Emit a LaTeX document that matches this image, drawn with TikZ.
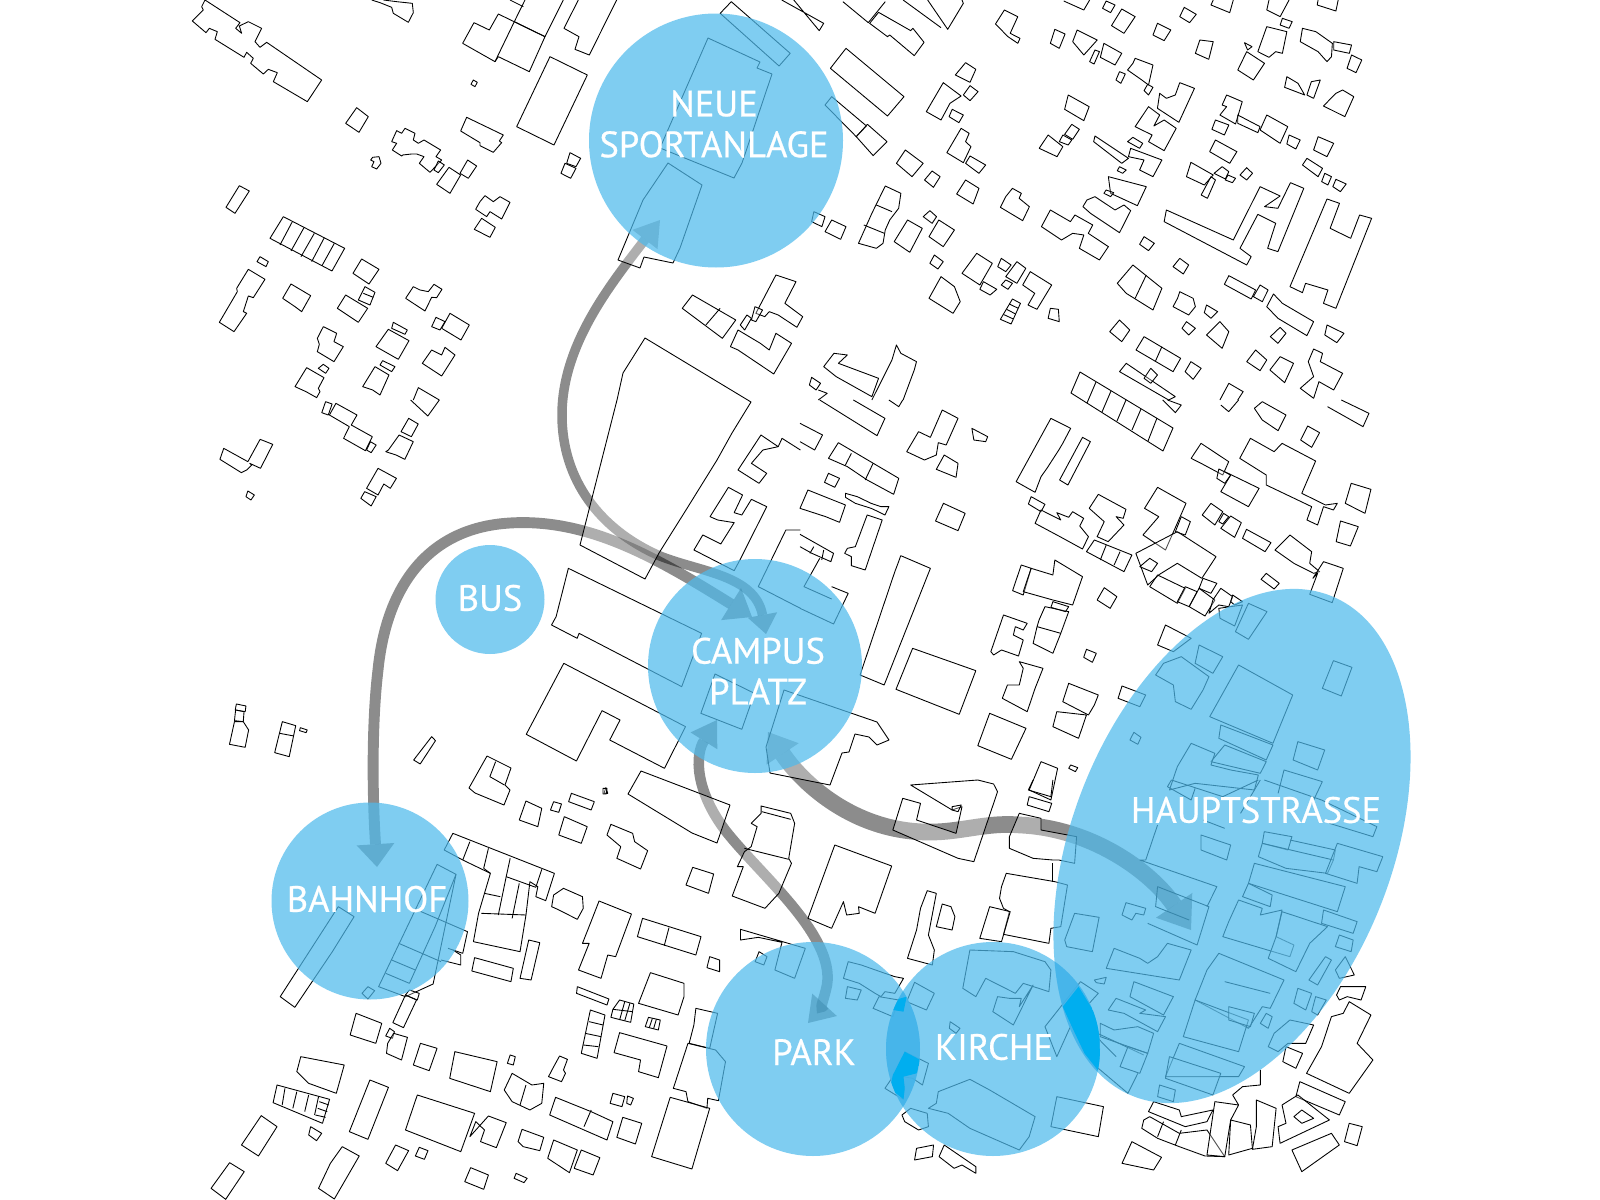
\documentclass[tikz,border=0pt]{standalone}
\usepackage{fontspec}
\setmainfont{PT Sans}
\newfontfamily\labfont[FakeBold=0.6]{PT Sans}
\usetikzlibrary{arrows.meta}
\definecolor{blu}{HTML}{4EBAEC}
\definecolor{dblu}{HTML}{00AEEF}
\definecolor{lens}{HTML}{3FB2EA}
\tikzset{
 bld/.style={draw=black,line width=0.5pt,fill=white,fill opacity=0.3,line join=round},
 ln/.style={draw=black,line width=0.5pt,line join=round},
 arr/.style={draw=black,draw opacity=0.45,fill opacity=0.45,line cap=butt},
 area/.style={fill=blu,fill opacity=0.72},
 lab/.style={text=white,font=\labfont\fontsize{20.8pt}{23.2pt}\selectfont,align=center,inner sep=0pt},
 zA/.style={shift={(180,0)},x=0.0066667cm,y=-0.0066667cm},
 zB/.style={shift={(680,0)},x=0.0089286cm,y=-0.0066667cm},
 zC/.style={shift={(200,400)},x=0.007654cm,y=-0.0066667cm},
 zD/.style={shift={(800,400)},x=0.007908cm,y=-0.0066667cm},
 zE/.style={shift={(200,780)},x=0.007908cm,y=-0.0066667cm},
 zF/.style={shift={(800,780)},x=0.007908cm,y=-0.0066667cm},
}
\newcommand\B[1]{\draw[bld] plot coordinates {#1} -- cycle;}
\newcommand\Ln[1]{\draw[ln] plot coordinates {#1};}
\begin{document}
\begin{tikzpicture}[x=0.02cm,y=-0.02cm]
\useasboundingbox (0,0) rectangle (1600,1200);
\fill[white] (0,0) rectangle (1600,1200);
\clip (0,0) rectangle (1600,1200);
% arrows
\draw[arr,line width=5.4pt,{Triangle[width=18pt,length=14pt,line width=0pt]}-{Triangle[width=17pt,length=11pt,line width=0pt]}] (660,220) .. controls (610,285) and (562,345) .. (562,415) .. controls (562,480) and (600,530) .. (660,556) .. controls (700,572) and (755,575) .. (766,634);
\draw[arr,line width=6.2pt,{Triangle[width=21.5pt,length=13pt,line width=0pt]}-{Triangle[width=21.5pt,length=14pt,line width=0pt]}] (377,867) .. controls (372,790) and (372,720) .. (378,670) .. controls (386,590) and (425,528) .. (510,523) .. controls (590,518) and (660,560) .. (752,617);
\draw[arr,line width=6pt,{Triangle[width=18pt,length=14pt,line width=0pt]}-{Triangle[width=19pt,length=14pt,line width=0pt]}] (717,720) .. controls (695,755) and (695,790) .. (725,830) .. controls (760,875) and (835,935) .. (827,985) .. controls (824,1000) and (818,1012) .. (808,1023);
\draw[arr,line width=9.5pt,{Triangle[width=22pt,length=15pt,line width=0pt]}-{Triangle[width=25pt,length=17pt,line width=0pt]}] (768,732) .. controls (800,780) and (850,830) .. (925,832) .. controls (960,833) and (985,822) .. (1020,825) .. controls (1090,828) and (1150,870) .. (1191,930);
% full-size pieces
\B{(668,163)(702,185)(680,248)(673,263)(644,257)(640,268)(618,260)(643,200)}
\B{(708,38)(760,62)(757,68)(772,74)(742,163)(734,178)(660,148)}
\B{(645,338)(751,402)(732,433)(717,460)(686,510)(659,553)(645,579)(580,545)(617,400)(623,373)}
\B{(784,690)(877,722)(889,740)(877,745)(869,737)(855,734)(849,752)(842,753)(830,785)(770,773)(766,747)}
\B{(487,756)(511,768)(505,785)(510,790)(504,805)(475,793)(469,788)}
\B{(641,771)(730,805)(717,843)(692,833)(628,794)}
\B{(1080,372)(1173,428)(1163,451)(1071,393)}
\Ln{(1096,382)(1087,403)} \Ln{(1111,391)(1102,412)} \Ln{(1126,400)(1117,421)} \Ln{(1141,409)(1132,430)} \Ln{(1157,418)(1148,441)}
\begin{scope}[zA]
\B{(75,0)(180,68)(167,85)(185,100)(178,78)(205,65)(245,85)(225,125)(240,142)(260,127)(425,240)(382,305)(280,245)(292,218)(265,208)(250,222)(212,190)(220,175)(200,157)(192,172)(105,118)(112,95)(88,85)(78,98)(37,63)(70,30)(65,20)}
\Ln{(610,0)(650,5)(697,10)(700,38)(685,67)(640,40)(635,22)(600,8)(575,0)}
\B{(882,68)(928,90)(955,42)(1095,110)(1048,215)(955,170)(945,185)(848,130)}
\Ln{(1035,0)(1003,65)(945,185)} \Ln{(1095,110)(1150,0)} \Ln{(990,0)(1030,20)} \Ln{(1003,65)(1095,110)}
\Ln{(1195,0)(1152,85)(1197,110)(1185,148)(1228,165)(1310,0)}
\B{(1110,170)(1222,225)(1122,435)(1010,380)}
\B{(880,240)(892,247)(885,260)(873,253)}
\B{(530,323)(565,350)(537,397)(497,370)}
\B{(650,392)(665,400)(675,385)(705,400)(700,420)(715,430)(732,420)(782,450)(768,470)(785,480)(750,517)(718,490)(732,470)(710,462)(695,462)(668,465)(665,468)(637,450)(650,430)(635,425)}
\B{(860,352)(970,405)(958,423)(965,428)(940,457)(900,437)(900,428)(842,393)}
\B{(578,472)(597,470)(603,490)(590,507)(575,500)(582,485)(572,480)}
\B{(775,483)(793,495)(775,518)(762,510)}
\B{(807,502)(842,525)(810,580)(770,553)}
\B{(863,480)(890,498)(865,535)(840,520)}
\B{(178,557)(208,573)(165,640)(138,622)}
\B{(310,650)(494,745)(456,813)(270,715)}
\Ln{(337,665)(300,735)} \Ln{(372,683)(333,753)} \Ln{(403,700)(363,770)} \Ln{(433,713)(395,785)} \Ln{(463,730)(426,797)}
\B{(240,770)(265,785)(258,800)(231,785)}
\B{(205,808)(255,838)(220,893)(205,888)(190,935)(200,940)(162,995)(118,967)(172,875)(170,865)}
\B{(333,852)(392,887)(365,935)(345,920)(308,895)}
\B{(545,777)(597,808)(567,852)(519,820)}
\B{(555,860)(585,877)(570,915)(535,900)} \Ln{(550,880)(580,892)}
\B{(497,885)(563,925)(535,967)(472,925)}
\B{(700,860)(720,870)(745,875)(762,853)(786,868)(770,893)(755,892)(735,933)(677,895)}
\B{(915,587)(940,605)(960,590)(990,607)(965,657)(930,635)(920,650)(887,628)(900,605)}
\B{(905,655)(946,682)(930,712)(883,688)}
\B{(768,952)(795,965)(780,990)(755,980)} \B{(810,940)(868,975)(843,1020)(785,985)}
\B{(640,967)(682,990)(675,1003)(635,985)}
\B{(625,988)(687,1022)(655,1078)(588,1040)}
\B{(430,980)(470,1000)(462,1025)(490,1040)(462,1085)(412,1055)(418,1033)(412,1015)}
\B{(415,1105)(430,1093)(447,1105)(437,1120)}
\B{(380,1103)(432,1133)(415,1165)(420,1175)(410,1193)(378,1175)(345,1160)}
\B{(608,1082)(645,1100)(635,1115)(600,1095)}
\B{(585,1100)(627,1125)(600,1185)(578,1170)(548,1160)}
\B{(755,1050)(785,1065)(795,1042)(825,1065)(785,1128)(727,1090)}
\Ln{(700,1200)(715,1163)(778,1200)}
\B{(1170,458)(1202,475)(1188,500)(1160,490)} \B{(1155,490)(1188,505)(1172,535)(1143,520)}
\end{scope}
\begin{scope}[zB]
\B{(115,5)(247,160)(222,198)(90,40)}
\Ln{(228,0)(322,70)(312,92)(255,0)}
\Ln{(365,5)(422,68)(460,5)}
\B{(445,37)(517,92)(522,85)(547,127)(525,167)(470,105)(465,110)(425,70)}
\Ln{(500,0)(585,83)} \Ln{(555,0)(600,88)(635,10)(632,0)}
\B{(372,145)(502,290)(465,348)(337,205)}
\B{(340,290)(418,378)(395,410)(325,315)}
\B{(420,373)(464,425)(433,467)(395,410)}
\B{(727,30)(757,50)(740,100)(762,115)(757,130)(735,110)(707,72)}
\Ln{(860,3)(905,30)(918,0)}
\B{(955,3)(975,15)(965,38)(947,25)}
\B{(990,27)(1020,50)(995,100)(967,77)}
\B{(1130,22)(1157,43)(1142,68)(1120,50)}
\B{(1070,70)(1100,90)(1085,122)(1060,105)}
\B{(840,88)(863,102)(850,145)(830,130)}
\B{(890,90)(935,120)(905,165)(880,125)}
\B{(930,150)(940,155)(928,192)(918,185)}
\B{(950,130)(990,160)(975,195)(942,172)}
\B{(1165,120)(1195,125)(1185,178)(1155,160)}
\Ln{(1195,0)(1190,15)(1232,38)(1240,0)}
\Ln{(1320,0)(1315,30)(1345,50)(1365,0)}
\B{(1350,55)(1372,65)(1365,85)(1345,75)}
\Ln{(1430,0)(1428,15)(1470,33)(1475,0)}
\B{(1315,80)(1360,95)(1350,160)(1335,155)(1320,172)(1295,155)}
\B{(1265,128)(1282,140)(1272,150)}
\B{(1270,155)(1310,190)(1285,240)(1250,210)}
\B{(1395,85)(1425,95)(1462,130)(1460,170)(1450,185)(1430,155)(1390,125)}
\B{(1465,125)(1505,135)(1500,160)(1465,150)}
\B{(1505,165)(1528,180)(1515,218)(1495,205)}
\B{(1360,230)(1385,250)(1400,285)(1355,262)}
\B{(1415,245)(1435,240)(1420,295)(1405,285)}
\B{(1485,270)(1510,290)(1490,350)(1442,318)(1470,280)}
\B{(640,188)(663,208)(650,247)(617,225)}
\B{(590,248)(630,288)(605,310)(585,360)(552,335)}
\B{(650,257)(668,275)(650,302)(635,285)}
\B{(610,328)(635,345)(625,368)(603,350)}
\B{(630,385)(648,400)(640,425)(652,440)(635,488)(598,458)}
\B{(650,468)(685,495)(670,520)(640,490)}
\B{(505,450)(545,490)(520,530)(485,490)}
\B{(565,513)(583,530)(568,562)(548,540)}
\B{(640,540)(670,565)(657,612)(620,582)}
\B{(460,558)(495,580)(490,625)(470,660)(460,690)(455,730)(440,745)(400,730)(430,640)}
\Ln{(440,615)(475,635)} \Ln{(412,675)(458,700)}
\B{(300,635)(325,650)(318,680)(295,665)}
\B{(340,660)(372,680)(360,718)(325,695)}
\B{(510,660)(543,685)(515,757)(480,725)}
\B{(560,632)(575,650)(565,670)(545,650)}
\B{(580,660)(615,690)(590,740)(558,710)}
\B{(570,765)(590,785)(578,807)(560,790)}
\B{(745,565)(765,580)(760,595)(783,620)(768,662)(718,622)(730,590)}
\B{(665,760)(700,790)(672,855)(632,820)}
\B{(720,775)(742,795)(730,815)(712,800)}
\B{(755,785)(775,805)(755,850)(730,830)}
\B{(730,840)(745,850)(735,868)(720,855)}
\B{(680,845)(710,868)(695,885)(672,868)}
\B{(785,815)(833,855)(800,928)(780,915)(795,880)(768,855)}
\B{(745,897)(763,910)(742,972)(718,958)}
\Ln{(738,912)(758,925)} \Ln{(732,928)(752,942)} \Ln{(726,944)(747,957)}
\B{(830,925)(848,928)(850,965)(825,955)}
\B{(870,285)(917,320)(905,362)(862,328)}
\B{(878,373)(895,388)(880,418)(862,403)}
\B{(858,405)(878,420)(870,435)(850,425)}
\B{(825,405)(858,440)(845,470)(805,445)}
\B{(585,830)(615,860)(628,905)(612,940)(558,895)}
\B{(930,408)(1005,475)(990,490)(927,425)}
\B{(1120,248)(1153,265)(1118,367)(1070,325)(1075,280)(1090,295)(1110,285)}
\B{(1050,320)(1075,345)(1062,378)(1085,360)(1112,385)(1085,452)(1050,425)(1058,405)(1020,380)(1035,350)}
\B{(1020,175)(1060,195)(1050,255)(1035,240)(1003,210)(1015,190)}
\B{(985,215)(998,222)(988,250)(977,240)}
\B{(1048,253)(1060,262)(1050,285)(1040,272)}
\B{(1015,412)(1037,430)(1030,445)(1003,425)}
\B{(1010,445)(1080,480)(1060,530)(1030,510)(1040,480)(1005,470)}
\B{(985,500)(1000,510)(992,520)(980,512)}
\B{(960,530)(1045,560)(1025,617)(965,580)}
\B{(955,570)(972,578)(965,590)(950,580)}
\B{(912,600)(930,590)(975,630)(995,615)(1010,632)(985,698)(920,640)(903,620)}
\B{(830,630)(875,665)(885,645)(925,675)(915,700)(960,740)(940,780)(895,745)(905,705)(880,700)(855,720)(810,680)}
\B{(1040,710)(1063,730)(1050,752)(1030,733)}
\B{(1120,775)(1140,795)(1128,822)(1105,800)}
\B{(1090,630)(1240,720)(1300,560)(1345,588)(1310,620)(1340,625)(1368,548)(1398,565)(1340,755)(1317,745)(1335,670)(1295,643)(1255,745)(1280,770)(1270,795)(1085,665)}
\B{(1450,597)(1478,610)(1457,685)(1503,715)(1523,645)(1550,655)(1470,925)(1442,910)(1452,870)(1402,850)(1395,878)(1367,860)}
\B{(1225,285)(1260,305)(1245,372)(1210,345)(1225,320)(1215,315)}
\B{(1200,360)(1230,375)(1220,405)(1192,388)}
\B{(1250,345)(1300,380)(1295,398)(1250,370)}
\B{(1315,345)(1362,380)(1345,430)(1300,390)}
\B{(1365,405)(1390,420)(1380,447)(1360,432)}
\B{(1200,420)(1248,455)(1232,490)(1187,455)}
\B{(1145,487)(1195,525)(1175,555)(1135,530)}
\B{(1215,500)(1230,515)(1222,537)(1197,520)}
\B{(1228,525)(1245,535)(1238,548)(1222,540)}
\B{(1190,530)(1200,540)(1182,595)(1168,585)}
\B{(1270,503)(1283,520)(1270,540)(1255,525)}
\B{(1430,410)(1465,430)(1450,470)(1420,450)}
\B{(1405,475)(1440,505)(1430,530)(1395,495)}
\B{(1445,520)(1460,530)(1452,555)(1438,545)}
\B{(1470,538)(1493,552)(1480,575)(1463,560)}
\B{(1230,827)(1290,870)(1280,897)(1220,853)}
\B{(1300,855)(1318,870)(1305,905)(1285,890)}
\B{(1330,882)(1350,910)(1420,965)(1405,1007)(1340,955)(1315,920)}
\B{(1015,795)(1080,865)(1060,930)(1000,880)(980,850)} \Ln{(1045,825)(1020,895)}
\B{(1120,875)(1150,895)(1155,920)(1140,945)(1105,920)(1115,895)}
\B{(1180,915)(1205,935)(1190,955)(1175,938)}
\B{(1135,965)(1155,985)(1140,1005)(1125,985)}
\B{(1210,965)(1230,995)(1215,1045)(1180,1005)}
\B{(985,960)(1008,990)(990,1025)(963,995)}
\B{(1040,1010)(1122,1075)(1105,1115)(1022,1050)} \Ln{(1080,1040)(1065,1085)}
\B{(1145,1085)(1168,1105)(1150,1138)(1132,1115)}
\B{(1345,982)(1358,1000)(1340,1030)(1323,1010)}
\B{(1450,975)(1488,1000)(1472,1028)(1445,1005)}
\B{(1290,1050)(1315,1080)(1300,1112)(1270,1085)}
\B{(1345,1070)(1375,1090)(1355,1148)(1322,1110)}
\B{(1420,1047)(1440,1060)(1435,1085)(1485,1120)(1465,1170)(1432,1145)(1420,1195)(1390,1165)(1420,1130)(1408,1085)}
\B{(1000,1090)(1110,1190)(1095,1200)(985,1115)}
\B{(1055,1105)(1070,1125)(1055,1150)(1040,1135)}
\Ln{(1210,1200)(1230,1150)(1262,1175)(1250,1200)}
\B{(28,885)(125,960)(95,1015)(5,925)} \Ln{(90,925)(58,975)}
\B{(215,825)(260,845)(235,910)(275,950)(262,982)(220,945)(200,935)(190,950)(170,940)}
\B{(150,945)(160,955)(145,990)(135,975)}
\B{(168,920)(185,930)(170,965)(160,960)}
\B{(130,990)(180,1030)(200,1050)(215,1000)(250,1030)(210,1122)(130,1050)(113,1040)}
\B{(322,1100)(345,1060)(375,1065)(355,1090)(445,1135)(430,1190)(350,1130)}
\Ln{(430,1200)(475,1080)(485,1035)(495,1060)(530,1085)(525,1110)(500,1200)}
\B{(295,1132)(315,1150)(305,1170)(290,1155)}
\Ln{(310,1200)(330,1180)(310,1170)}
\end{scope}
\begin{scope}[zC]
\B{(328,5)(345,12)(335,45)(318,38)}
\B{(355,10)(410,45)(395,75)(450,110)(432,152)(375,115)(390,80)(338,45)}
\B{(445,125)(460,135)(447,158)(435,150)}
\B{(545,55)(570,72)(552,110)(525,95)}
\B{(520,105)(557,125)(535,178)(512,165)(485,155)(492,150)}
\B{(62,145)(125,185)(157,118)(190,133)(158,205)(130,190)(135,195)(122,210)(108,218)(52,178)}
\B{(125,273)(142,285)(133,300)(120,290)}
\B{(465,205)(513,235)(497,265)(480,252)(465,285)(435,265)}
\B{(430,275)(460,290)(447,318)(420,295)}
\Ln{(550,0)(595,48)(625,0)}
\B{(1465,105)(1510,140)(1470,150)(1440,190)(1480,220)(1460,250)(1405,210)}
\Ln{(1510,140)(1520,115)(1568,150)}
\B{(1380,262)(1417,285)(1395,338)(1415,345)(1440,298)(1480,320)(1410,480)(1395,512)(1290,450)(1313,405)(1360,432)(1395,368)(1352,360)(1332,350)}
\Ln{(1568,390)(1530,390)(1458,560)(1568,625)}
\B{(962,505)(1310,700)(1258,860)(990,700)(985,715)(918,675)(930,650)}
\B{(950,790)(1268,980)(1213,1105)(1070,1020)(1097,960)(1050,932)(983,1083)(852,1003)}
\B{(1345,822)(1448,880)(1415,988)(1308,940)}
\B{(95,912)(120,918)(118,935)(92,930)}
\B{(93,930)(115,935)(113,965)(90,962)}
\B{(90,965)(113,965)(127,990)(118,1042)(77,1033)}
\B{(215,965)(250,977)(233,1070)(195,1058)} \Ln{(208,1000)(245,1008)}
\B{(262,983)(280,990)(277,998)(260,992)}
\B{(605,1010)(615,1022)(575,1092)(558,1080)}
\Ln{(772,1085)(757,1130)(795,1155)}
\B{(1060,1163)(1065,1180)(1055,1180)}
\end{scope}
\begin{scope}[zD]
\Ln{(50,0)(195,107)(215,55)(135,0)} \Ln{(225,0)(250,20)(260,0)}
\Ln{(0,70)(57,105)(37,150)(0,125)}
\B{(97,128)(250,235)(237,283)(170,240)(120,200)(72,175)} \Ln{(130,160)(115,195)} \Ln{(185,190)(165,240)}
\B{(72,220)(100,235)(88,262)(62,247)}
\B{(20,270)(115,315)(100,367)(65,350)(0,325)}
\B{(115,280)(145,290)(180,310)(205,320)(225,320)(215,345)(198,335)(180,325)(140,310)(115,292)}
\B{(170,345)(208,360)(165,510)(130,497)(130,470)(113,460)(120,445)(140,440)}
\Ln{(0,403)(85,460)(78,485)(30,460)(0,440)} \Ln{(35,440)(25,460)} \Ln{(60,450)(55,480)}
\Ln{(50,475)(10,560)(80,597)} \Ln{(80,560)(122,580)(85,672)(0,625)}
\B{(255,467)(330,505)(213,855)(152,825)(240,515)(248,490)}
\B{(285,745)(445,812)(403,943)(243,868)}
\B{(363,310)(418,340)(400,392)(343,363)}
\B{(365,165)(400,190)(395,232)(345,208)}
\B{(360,30)(400,55)(370,135)(350,128)(345,165)(315,180)(270,155)(300,95)(330,112)}
\B{(435,85)(475,110)(470,125)(440,120)}
\B{(635,55)(685,85)(665,130)(655,150)(625,205)(610,230)(595,277)(547,245)}
\B{(715,112)(735,125)(678,255)(657,240)}
\B{(585,290)(620,313)(610,335)(578,312)}
\B{(610,330)(660,360)(650,338)(680,352)(690,335)(718,355)(708,378)(730,410)(715,447)(658,410)(595,370)}
\B{(755,283)(825,328)(818,355)(800,350)(820,375)(780,425)(752,410)(770,365)(732,325)}
\B{(745,420)(840,465)(820,515)(725,455)} \Ln{(775,435)(760,480)} \Ln{(810,455)(795,495)}
\B{(905,262)(977,310)(925,450)(868,405)(908,350)(872,325)}
\B{(965,350)(988,365)(975,405)(950,395)}
\B{(955,395)(1053,470)(1017,535)(955,490)(910,523)(880,555)(850,460)}
\B{(885,475)(905,490)(890,515)(860,500)}
\B{(905,525)(975,565)(955,610)(885,560)}
\B{(975,560)(1005,575)(985,620)(955,605)}
\B{(1010,565)(1050,600)(1025,648)(985,620)}
\B{(1020,535)(1055,550)(1040,580)(1010,565)}
\B{(1065,565)(1095,590)(1085,620)(1060,615)(1035,640)(1045,600)}
\B{(1095,585)(1120,605)(1100,615)(1090,605)}
\B{(1040,310)(1070,335)(1050,375)(1018,345)}
\B{(1072,340)(1085,350)(1070,372)(1060,365)}
\B{(1090,348)(1117,368)(1100,412)(1065,385)}
\B{(1130,388)(1192,428)(1177,455)(1120,415)}
\B{(1240,405)(1295,455)(1290,490)(1315,515)(1300,520)(1250,490)(1202,450)}
\B{(1180,520)(1213,550)(1200,567)(1167,538)}
\B{(1325,485)(1375,505)(1347,608)(1290,583)(1310,520)(1298,535)}
\B{(1015,130)(1085,185)(1070,225)(1015,190)(990,175)}
\B{(1075,215)(1162,265)(1135,320)(1065,275)(1090,225)}
\B{(1060,207)(1090,225)(1075,250)(1055,235)}
\B{(1140,115)(1200,155)(1220,130)(1305,183)(1270,280)(1330,315)(1360,310)(1350,330)(1325,320)(1310,375)(1283,360)(1295,320)(1180,255)(1180,225)(1113,175)}
\B{(1395,250)(1445,268)(1430,340)(1380,310)}
\B{(1368,363)(1413,380)(1393,438)(1357,425)}
\B{(1285,78)(1315,98)(1295,142)(1267,120)}
\B{(1170,5)(1230,45)(1210,92)(1170,60)(1150,25)}
\Ln{(1370,0)(1440,40)(1425,80)(1335,20)}
\Ln{(1110,0)(1085,35)(1065,15)}
\Ln{(918,0)(950,38)(965,15)(930,0)}
\B{(515,645)(575,670)(565,690)(545,680)(540,705)(565,720)(553,768)(510,750)(490,765)(483,755)}
\B{(555,785)(615,805)(595,865)(575,935)(512,895)(525,855)(555,855)(565,805)}
\B{(620,620)(680,635)(660,700)(640,760)(590,730)(600,680)(605,660)} \Ln{(600,680)(660,700)}
\B{(640,605)(680,620)(672,635)(635,622)}
\B{(560,495)(585,505)(565,585)(538,572)}
\B{(585,505)(640,525)(645,480)(715,530)(690,615)(640,600)(565,575)}
\B{(770,563)(802,590)(785,625)(752,600)}
\B{(725,748)(750,760)(740,787)(718,772)}
\B{(680,850)(755,885)(745,915)(730,945)(665,905)}
\B{(650,935)(725,945)(705,1015)(640,980)}
\B{(480,940)(572,985)(535,1078)(450,1037)}
\B{(610,1085)(652,1105)(635,1200)(580,1170)}
\B{(685,1095)(703,1103)(697,1115)(680,1105)}
\B{(925,675)(990,715)(945,755)(905,735)}
\B{(1010,735)(1070,770)(1045,820)(1000,790)}
\B{(965,770)(1035,830)(1020,870)(990,928)(950,905)(945,855)(900,825)(920,790)}
\B{(1110,795)(1247,885)(1197,1030)(1037,950)}
\B{(1350,782)(1397,802)(1370,888)(1322,865)}
\B{(845,997)(863,1012)(855,1033)(835,1020)}
\B{(815,858)(875,885)(860,920)(805,895)}
\B{(1135,610)(1182,635)(1135,718)(1102,695)}
\B{(1060,625)(1120,615)(1100,678)(1063,655)}
\B{(1065,975)(1197,1035)(1180,1080)(1060,1015)}
\B{(1075,1035)(1180,1085)(1165,1120)(1040,1085)}
\B{(990,1030)(1050,1060)(1040,1095)(1090,1110)(1160,1125)(1150,1170)(1000,1150)(935,1170)(955,1100)}
\B{(1260,1025)(1328,1050)(1310,1110)(1248,1080)}
\Ln{(1210,1180)(1225,1110)(1322,1145)(1300,1200)}
\end{scope}
\begin{scope}[zE]
\B{(825,63)(865,85)(855,140)(808,120)}
\B{(895,65)(915,72)(908,97)(887,90)}
\B{(940,40)(998,65)(990,90)(933,65)}
\B{(1020,25)(1030,25)(1028,42)(1020,42)}
\B{(922,110)(980,140)(965,190)(908,165)}
\B{(1040,133)(1095,160)(1100,185)(1133,212)(1115,267)(1055,235)(1065,200)(1030,165)}
\B{(1247,262)(1300,282)(1287,340)(1230,315)}
\B{(1420,78)(1495,100)(1505,130)(1490,235)(1497,250)(1465,340)(1430,385)(1347,348)(1375,260)(1360,260)(1378,215)(1395,200)(1410,140)(1395,130)(1420,100)}
\Ln{(1378,205)(1490,238)} \Ln{(1422,95)(1495,118)}
\B{(1368,448)(1532,505)(1505,595)(1455,570)(1473,487)(1413,472)(1368,480)}
\B{(1415,515)(1435,530)(1427,555)(1405,545)}
\B{(640,160)(897,280)(875,362)(850,350)(855,320)(835,305)(825,405)(810,515)(692,485)(705,400)(735,280)(665,240)(618,210)}
\Ln{(683,185)(665,240)} \Ln{(730,205)(718,265)(735,280)} \Ln{(785,235)(775,290)(755,405)} \Ln{(865,268)(850,322)} \Ln{(775,290)(850,322)} \Ln{(808,310)(790,415)} \Ln{(720,340)(760,350)} \Ln{(712,400)(825,405)}
\B{(832,480)(860,488)(838,600)(810,595)}
\B{(695,533)(793,565)(787,605)(688,573)}
\B{(920,325)(968,350)(970,385)(955,418)(905,388)(890,380)(895,345)}
\B{(1010,363)(1092,402)(1052,530)(1032,525)(1015,595)(958,570)(985,490)(968,490)(988,430)}
\B{(1120,415)(1268,470)(1255,525)(1107,470)} \Ln{(1187,443)(1175,497)}
\B{(1290,530)(1315,540)(1315,575)(1283,563)}
\B{(955,620)(1035,657)(1030,675)(953,640)}
\B{(1062,660)(1098,672)(1090,727)(1040,712)(1045,688)} \Ln{(1075,665)(1062,720)} \Ln{(1088,670)(1075,722)} \Ln{(1045,688)(1095,695)}
\B{(1140,578)(1225,610)(1225,650)(1210,705)(1110,670)}
\B{(1135,712)(1165,720)(1160,750)(1127,740)} \Ln{(1145,715)(1137,743)} \Ln{(1155,718)(1148,746)}
\B{(988,690)(1025,705)(1005,835)(965,820)} \Ln{(985,725)(1020,735)} \Ln{(975,760)(1015,770)} \Ln{(970,795)(1008,800)}
\B{(1062,758)(1182,798)(1160,893)(1110,875)(1115,840)(1048,818)}
\B{(1255,685)(1310,700)(1290,805)(1238,790)(1250,735)}
\B{(1235,790)(1305,810)(1330,845)(1312,962)(1285,955)(1283,985)(1235,965)(1230,935)(1198,925)}
\B{(1190,952)(1290,985)(1245,1167)(1143,1130)}
\B{(350,380)(390,410)(335,515)(240,682)(203,650)}
\B{(600,253)(648,283)(590,612)(520,650)(452,620)}
\Ln{(648,283)(595,440)(530,610)}
\Ln{(503,490)(610,545)} \Ln{(485,540)(545,570)} \Ln{(470,580)(530,610)}
\Ln{(550,390)(677,455)(665,520)(628,505)} \Ln{(640,510)(660,525)(660,555)(610,540)}
\B{(410,640)(425,620)(442,632)(425,657)}
\B{(520,645)(548,660)(515,743)(488,728)}
\B{(530,630)(555,640)(550,660)(520,645)}
\B{(395,700)(460,730)(445,790)(380,765)}
\B{(480,745)(492,755)(487,775)(470,768)}
\B{(490,760)(525,772)(510,840)(472,820)(475,790)}
\B{(558,790)(600,805)(580,872)(540,855)}
\B{(645,815)(752,845)(735,935)(632,895)}
\B{(785,825)(798,830)(793,855)(778,850)}
\B{(910,828)(930,838)(920,870)(925,880)(915,905)(882,890)(893,865)}
\B{(790,880)(840,915)(870,910)(865,970)(835,990)(790,965)(770,930)} \Ln{(825,915)(810,975)}
\B{(900,952)(990,995)(1045,1025)(1030,1080)(972,1050)(885,1005)} \Ln{(990,990)(972,1040)}
\B{(1045,940)(1075,950)(1068,980)(1038,970)}
\B{(1082,948)(1097,955)(1090,975)(1080,970)}
\B{(1070,1012)(1118,1030)(1102,1092)(1055,1072)}
\B{(255,830)(365,855)(345,940)(275,910)(245,875)}
\B{(195,915)(328,958)(310,1030)(185,968)}
\Ln{(215,925)(208,975)} \Ln{(245,935)(235,985)} \Ln{(275,945)(265,995)} \Ln{(300,950)(290,1005)}
\Ln{(302,965)(326,975)} \Ln{(298,985)(322,995)} \Ln{(292,1005)(318,1012)}
\B{(430,900)(477,922)(425,1078)(378,1055)}
\B{(155,1007)(195,1040)(148,1128)(105,1095)}
\B{(280,1040)(308,1060)(295,1082)(275,1065)}
\B{(360,1100)(403,1128)(340,1257)(300,1225)(330,1150)}
\B{(75,1148)(112,1175)(65,1258)(28,1225)}
\B{(550,945)(695,1000)(660,1115)(520,1050)}
\B{(730,1008)(775,1028)(750,1103)(710,1085)(720,1050)(698,1025)(683,1070)}
\B{(815,1048)(870,1072)(860,1112)(818,1100)(805,1085)}
\B{(895,1080)(955,1110)(935,1178)(880,1135)}
\B{(965,1110)(1012,1133)(995,1185)(947,1165)}
\B{(495,1095)(528,1112)(500,1172)(470,1150)}
\B{(555,1102)(577,1112)(568,1138)(545,1128)}
\B{(685,1163)(730,1185)(718,1228)(670,1205)}
\B{(800,1180)(828,1195)(820,1208)(795,1195)}
\end{scope}
\begin{scope}[zF]
\B{(280,15)(450,0)(490,12)(500,35)(440,245)(400,235)(235,150)(260,55)(305,70)(295,120)(395,160)(410,80)(385,90)}
\B{(385,80)(408,75)(400,95)(385,90)}
\Ln{(590,0)(578,30)(635,50)(640,0)}
\B{(580,50)(637,70)(630,95)(575,75)}
\B{(555,100)(610,115)(610,150)(700,170)(695,250)(655,240)(640,240)(590,235)(530,205)(530,170)}
\B{(88,195)(232,258)(190,400)(148,380)(150,400)(118,405)(110,365)(80,445)(20,415)}
\B{(522,280)(645,305)(677,315)(660,440)(635,445)(630,490)(515,463)(530,395)(515,385)(505,355)(510,320)}
\Ln{(640,250)(640,305)}
\B{(480,380)(532,395)(510,485)(455,475)}
\B{(322,332)(345,340)(325,465)(340,510)(335,555)(272,535)(295,450)(305,385)}
\B{(360,372)(382,380)(392,410)(385,450)(345,440)}
\B{(122,545)(155,555)(215,580)(240,590)(262,595)(240,640)(215,635)(205,650)(190,640)(150,610)(110,595)}
\B{(120,620)(155,630)(145,660)(115,655)}
\B{(200,650)(250,660)(235,710)(185,685)}
\B{(290,607)(340,640)(320,690)(270,665)}
\B{(265,815)(325,850)(310,915)(285,895)(260,890)(265,925)(260,958)(215,925)(235,890)(250,860)}
\B{(380,725)(405,745)(395,760)(378,745)}
\B{(350,935)(430,898)(480,930)(595,1010)(580,1070)(555,1110)(430,1045)(375,1000)(325,985)(345,970)}
\B{(280,985)(322,1000)(325,1040)(300,1050)(265,1025)(258,1005)}
\B{(430,510)(540,515)(620,545)(635,570)(630,635)(565,610)(545,640)(470,595)(445,650)(412,625)}
\B{(500,650)(530,655)(560,655)(555,680)(590,615)(540,735)(488,695)}
\B{(650,950)(768,980)(755,1070)(635,1040)}
\B{(295,1105)(338,1095)(335,1130)(290,1140)}
\B{(365,1095)(445,1160)(445,1180)(410,1155)(390,1165)(352,1130)}
\B{(695,400)(757,412)(740,515)(675,500)(670,480)}
\B{(825,368)(875,385)(870,405)(850,400)(840,420)(815,405)}
\Ln{(880,430)(1005,495)(1035,380)(905,320)(900,380)(985,420)}
\Ln{(905,135)(875,240)(860,240)(1055,320)(1030,380)}
\B{(1015,165)(1090,195)(1080,240)(1015,210)}
\Ln{(940,0)(930,20)(990,60)(1000,25)}
\B{(795,505)(860,535)(880,550)(905,530)(930,490)(990,510)(960,600)(775,565)}
\B{(845,605)(945,650)(920,705)(835,650)}
\B{(800,655)(875,690)(860,700)(925,710)(905,755)(820,700)(780,690)}
\B{(760,730)(795,750)(855,740)(895,760)(880,820)(760,770)}
\B{(620,740)(710,605)(755,640)(690,725)(650,830)}
\Ln{(690,725)(870,825)} \Ln{(750,770)(800,830)}
\B{(830,800)(880,820)(860,880)(810,860)}
\Ln{(750,860)(830,940)(855,880)}
\B{(745,600)(775,592)(770,612)(750,608)}
\Ln{(1115,100)(1165,0)}
\B{(1175,155)(1245,170)(1235,210)(1170,190)}
\B{(1170,190)(1350,240)(1335,280)(1230,265)(1160,230)}
\Ln{(1240,180)(1355,210)(1350,240)}
\B{(1360,190)(1475,230)(1460,275)(1415,260)(1410,310)(1330,280)}
\B{(1150,250)(1380,320)(1360,395)(1135,310)}
\B{(1135,310)(1195,345)(1190,380)(1120,350)}
\B{(1110,360)(1170,385)(1165,405)(1220,390)(1205,470)(1250,495)(1240,530)(1070,470)(1085,425)}
\B{(1220,395)(1335,440)(1290,490)(1255,575)(1185,535)(1205,470)}
\B{(1325,390)(1410,425)(1400,460)(1320,430)}
\B{(1365,465)(1400,480)(1395,515)(1355,500)}
\B{(1060,520)(1225,600)(1190,685)(1170,680)(1135,745)(1000,660)(1030,570)}
\Ln{(1075,605)(1190,640)}
\B{(1000,660)(1135,720)(1110,815)(970,770)}
\B{(1085,680)(1150,700)(1140,740)(1085,720)}
\B{(960,790)(1125,860)(1110,890)(925,890)}
\B{(935,830)(1065,880)(1045,945)(925,895)}
\B{(910,915)(950,930)(945,965)(905,950)}
\Ln{(940,0)(1070,50)(1160,0)} \Ln{(1020,120)(1075,145)}
\Ln{(1175,0)(1320,60)(1460,140)(1450,170)(1340,130)}
\B{(1330,530)(1345,540)(1310,615)(1288,600)}
\B{(1380,530)(1403,585)(1365,595)(1355,570)}
\B{(1260,625)(1295,640)(1280,690)(1250,670)}
\B{(1305,650)(1332,660)(1310,705)(1295,695)}
\B{(1180,700)(1195,710)(1185,745)(1165,730)}
\B{(1240,720)(1300,735)(1280,790)(1235,790)(1210,815)(1185,800)(1200,760)}
\B{(1368,620)(1432,620)(1420,660)(1385,650)(1365,660)(1358,645)}
\B{(1390,665)(1445,705)(1410,790)(1450,840)(1390,940)(1282,880)(1320,800)(1345,710)(1375,700)}
\B{(1230,800)(1272,820)(1255,865)(1222,845)}
\B{(1265,905)(1380,965)(1365,1005)(1255,950)}
\B{(1220,975)(1260,945)(1340,1020)(1215,1090)(1210,1040)(1230,1030)}
\B{(1270,990)(1300,1015)(1270,1030)(1250,1010)}
\B{(1345,1060)(1365,1095)(1270,1175)(1245,1110)}
\B{(1390,1030)(1423,1040)(1410,1097)(1378,1085)}
\B{(840,1085)(915,1132)(895,1170)(815,1150)}
\B{(895,965)(960,990)(965,1010)(1045,990)(1030,1025)(975,1040)(882,995)}
\B{(885,1010)(960,1060)(1030,1050)(1075,1130)(1025,1128)(960,1100)(905,1075)(865,1045)(870,1020)}
\B{(1050,965)(1110,975)(1090,1020)(1075,1130)(1030,1125)}
\B{(1090,1020)(1140,1035)(1145,1105)(1085,1125)}
\B{(1155,960)(1205,985)(1195,1100)(1145,1108)(1155,1040)}
\Ln{(1110,975)(1095,945)(1120,920)(1165,915)(1165,870)}
\Ln{(920,1025)(905,1070)} \Ln{(965,1050)(950,1095)}
\end{scope}
% blue areas
\fill[area] (716,140.5) circle[radius=127];
\fill[area] (755,666) circle[radius=107];
\fill[area] (490,599.5) circle[radius=54.5];
\fill[area] (370,901) circle[radius=98.5];
\fill[area] (813,1049) circle[radius=107];
\fill[area] (993,1049) circle[radius=107];
\fill[area,rotate around={-21.5:(1232,846)}] (1232,846) ellipse (160 and 269);
% overlaps
\begin{scope}
\clip (813,1049) circle[radius=107];
\clip (993,1049) circle[radius=107];
\fill[lens,fill opacity=0.7] (800,930) rectangle (920,1170);
\begin{scope}[zF]
\fill[dblu] plot coordinates {(265,815)(305,840)(295,880)(262,890)(265,925)(262,958)(228,925)(235,885)} -- cycle;
\fill[dblu] plot coordinates {(240,660)(270,650)(262,695)(235,690)} -- cycle;
\end{scope}
\end{scope}
\begin{scope}
\clip (993,1049) circle[radius=107];
\clip[rotate around={-21.5:(1232,846)}] (1232,846) ellipse (160 and 269);
\fill[lens,fill opacity=0.7] (1040,950) rectangle (1110,1140);
\begin{scope}[zF]
\fill[dblu] plot coordinates {(665,680)(705,620)(757,720)(760,880)(720,820)(690,745)} -- cycle;
\end{scope}
\end{scope}
% labels
\node[lab] (sport) at (714,124) {NEUE\\SPORTANLAGE};
\node[lab] (campus) at (758,671) {CAMPUS\\PLATZ};
\node[lab] (bus) at (490,598) {BUS};
\node[lab] (bahn) at (367,899) {BAHNHOF};
\node[lab] (park) at (814,1052) {PARK};
\node[lab] (kirche) at (994,1047) {KIRCHE};
\node[lab] (haupt) at (1256,810) {HAUPTSTRASSE};
\end{tikzpicture}
\end{document}
